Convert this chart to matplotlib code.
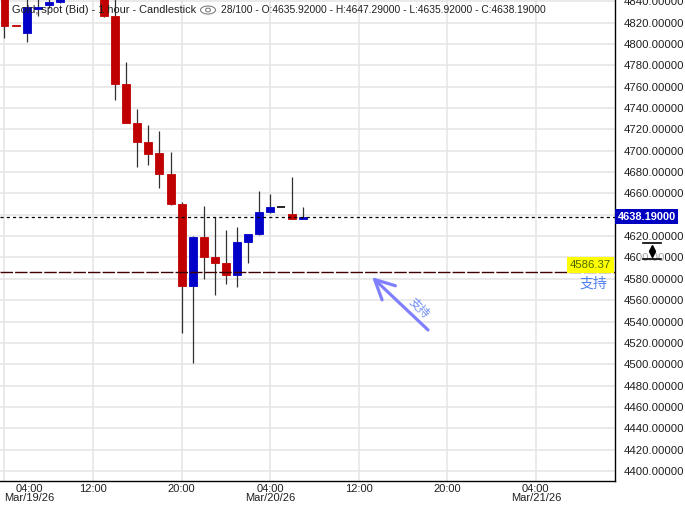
#gold 1h candles
import matplotlib.pyplot as plt
from matplotlib.patches import Ellipse, Circle, Rectangle

# hours counted from Mar/19/26 00:00
hours = [4, 5, 6, 7, 8, 9, 10, 11, 12, 13, 14, 15, 16, 17, 18, 19, 20, 21,
         22, 23, 24, 25, 26, 27, 28, 29, 30, 31]
opens = [4850.0, 4817.6, 4810.6, 4833.0, 4836.3, 4839.6, 4848.0, 4862.0, 4872.0, 4856.0,
         4826.5, 4762.8, 4726.3, 4708.5, 4697.9, 4678.5, 4650.4, 4573.6, 4619.2, 4600.5,
         4594.8, 4583.9, 4614.8, 4622.3, 4642.6, 4647.0, 4640.7, 4635.92]
highs = [4855.0, 4817.6, 4846.0, 4845.0, 4843.0, 4852.0, 4866.0, 4878.0, 4880.0, 4862.0,
         4845.0, 4783.1, 4739.4, 4724.1, 4718.5, 4699.1, 4651.7, 4620.1, 4648.5, 4637.9,
         4625.8, 4628.6, 4622.0, 4662.3, 4659.5, 4647.0, 4675.4, 4647.29]
lows = [4805.9, 4817.0, 4802.2, 4826.5, 4834.0, 4838.0, 4845.0, 4858.0, 4852.0, 4825.5,
        4747.3, 4726.3, 4685.1, 4686.9, 4665.4, 4649.5, 4529.5, 4501.4, 4580.2, 4565.1,
        4575.5, 4572.7, 4595.1, 4621.1, 4642.0, 4647.0, 4635.92, 4635.92]
closes = [4817.1, 4817.0, 4834.4, 4835.0, 4839.6, 4848.0, 4862.0, 4872.0, 4856.0, 4826.5,
          4762.8, 4726.3, 4708.5, 4697.2, 4678.5, 4650.4, 4573.6, 4619.2, 4600.5, 4595.1,
          4583.9, 4614.5, 4622.0, 4642.6, 4647.3, 4647.0, 4635.92, 4638.19]

last_price = 4638.19
support = 4586.37
support_label = "支持"

xtick_pos = [4, 12, 20, 28, 36, 44, 52]
xtick_lab = ["04:00\nMar/19/26", "12:00", "20:00", "04:00\nMar/20/26", "12:00", "20:00",
             "04:00\nMar/21/26"]
ytick_pos = list(range(4400, 4841, 20))

title1 = "Gold, spot (Bid) - 1 hour - Candlestick"
title2 = "28/100 - O:4635.92000 - H:4647.29000 - L:4635.92000 - C:4638.19000"

# arrow (tail -> tip) and rotated note, in data units
arrow_tail = (42.26, 4532.1)
arrow_tip = (37.20, 4581.7)
note_xy = (41.5, 4553.0)

RED = '#c00000'
BLUE = '#0000c8'
WICK = '#303030'
FONT = ['Liberation Sans', 'DejaVu Sans']
CJK = ['Noto Sans CJK SC', 'DejaVu Sans']

W, H = 685, 505
fig = plt.figure(figsize=(W / 100, H / 100), dpi=100)
ax = fig.add_axes([0, 1 - 481 / H, 615 / W, 481 / H])

ax.set_xlim(3.5935, 59.15)
ax.set_ylim(4390.6, 4841.2)

# grid
ax.set_xticks(xtick_pos)
ax.set_xticklabels(xtick_lab, fontfamily=FONT, fontsize=8, color='#202020', linespacing=0.95)
ax.set_yticks(ytick_pos)
# the 4640 label sits under the last price box
ylab = ["%.5f" % v if abs(v - last_price) > 8 else "" for v in ytick_pos]
ax.set_yticklabels(ylab, fontfamily=FONT, fontsize=8.2, color='#202020')
ax.yaxis.tick_right()
ax.tick_params(axis='both', length=0)
ax.tick_params(axis='y', pad=6)
ax.tick_params(axis='x', pad=2)
ax.grid(True, color='#e4e4e4', lw=1.1)
ax.set_axisbelow(True)
for s in ['left', 'top']:
    ax.spines[s].set_visible(False)
for s in ['right', 'bottom']:
    ax.spines[s].set_color('black')
    ax.spines[s].set_linewidth(1.0)

lbls = ax.get_xticklabels()
lbls[0].set_horizontalalignment('left')
lbls[0].set_multialignment('center')

# candles
bw = 0.72
for i in range(len(hours)):
    h = hours[i]
    o = opens[i]
    c = closes[i]
    if c > o:
        col = BLUE
    elif c < o:
        col = RED
    else:
        col = 'black'
    if highs[i] > max(o, c):
        ax.vlines(h, max(o, c), highs[i], color=WICK, lw=0.9, zorder=2)
    if lows[i] < min(o, c):
        ax.vlines(h, lows[i], min(o, c), color=WICK, lw=0.9, zorder=2)
    if c == o:
        ax.hlines(o, h - bw / 2, h + bw / 2, color=col, lw=1.2, zorder=3)
    else:
        ax.bar(h, abs(c - o), bottom=min(o, c), width=bw, color=col, edgecolor=col,
               lw=0.6, zorder=3)

# last price + support
ax.axhline(last_price, color='black', lw=0.9, ls=(0, (2.5, 2.5)), zorder=4)
ax.axhline(support, color='#400000', lw=1.0, ls=(0, (9, 1.5)), zorder=4)

ax.text(1.004, last_price, "%.5f" % last_price, transform=ax.get_yaxis_transform(),
        ha='left', va='center', fontsize=7.9, fontfamily=FONT, fontweight='bold', color='white',
        bbox=dict(boxstyle='square,pad=0.22', fc='#0000c0', ec='none'), zorder=6, clip_on=False)
ax.text(0.994, support + 1.8, "%.2f" % support, transform=ax.get_yaxis_transform(),
        ha='right', va='bottom', fontsize=8.2, fontfamily=FONT, color='#4a6a00',
        bbox=dict(boxstyle='square,pad=0.25', fc='#ffff00', ec='none'), zorder=6)
ax.text(0.987, support - 4.5, support_label, transform=ax.get_yaxis_transform(),
        ha='right', va='top', fontsize=10, fontfamily=CJK, color='#4f7ff0', zorder=6)

# hand drawn arrow
ax.annotate("", xy=arrow_tip, xytext=arrow_tail,
            arrowprops=dict(arrowstyle='->,head_length=0.7,head_width=0.35', color='#8080ff',
                            lw=2.3, shrinkA=0, shrinkB=0, mutation_scale=20), zorder=5)
ax.text(note_xy[0], note_xy[1], support_label, rotation=-45, ha='center', va='center',
        fontsize=8.5, fontfamily=CJK, color='#6f8cf5', zorder=5)

# header
fig.text(12 / W, 1 - 10 / H, title1, ha='left', va='center', fontsize=7.9, fontfamily=FONT,
         color='#202020', zorder=10)
fig.text(221 / W, 1 - 10 / H, title2, ha='left', va='center', fontsize=7.4, fontfamily=FONT,
         color='#202020', zorder=10)
fig.patches.append(Ellipse((208 / W, 1 - 10 / H), 15 / W, 8 / H, transform=fig.transFigure,
                           fill=False, ec='#808080', lw=0.8))
fig.patches.append(Circle((208 / W, 1 - 10 / H), 2.5 / W, transform=fig.transFigure,
                          fill=False, ec='#808080', lw=0.8))

# drag handle on the price scale
fig.patches.append(Rectangle((640 / W, 1 - 262 / H), 25 / W, 20 / H, transform=fig.transFigure,
                             fc='white', ec='none', alpha=0.6))
fig.lines.append(plt.Line2D([643 / W, 661 / W], [1 - 243 / H, 1 - 243 / H],
                            transform=fig.transFigure, color='black', lw=1.2))
fig.lines.append(plt.Line2D([643 / W, 661 / W], [1 - 259 / H, 1 - 259 / H],
                            transform=fig.transFigure, color='black', lw=1.2))
fig.lines.append(plt.Line2D([652 / W], [1 - 248 / H], transform=fig.transFigure, marker='^',
                            color='black', ms=4, ls='none'))
fig.lines.append(plt.Line2D([652 / W], [1 - 254 / H], transform=fig.transFigure, marker='v',
                            color='black', ms=4, ls='none'))

fig.savefig('out.png', dpi=100)
